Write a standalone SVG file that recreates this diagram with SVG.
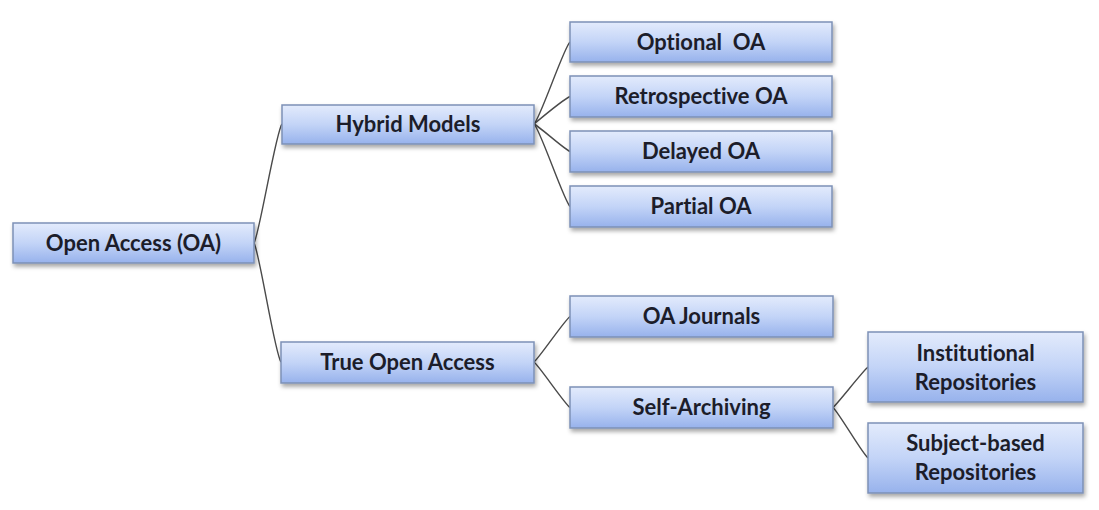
<svg xmlns="http://www.w3.org/2000/svg" width="1099" height="510" viewBox="0 0 1099 510">
  <defs>
    <linearGradient id="boxFill" x1="0" y1="0" x2="0" y2="1">
      <stop offset="0" stop-color="#e3ebfc"/>
      <stop offset="0.5" stop-color="#c3d4f7"/>
      <stop offset="1" stop-color="#97b2ec"/>
    </linearGradient>
    <filter id="shadow" x="-10%" y="-20%" width="120%" height="160%">
      <feDropShadow dx="1.5" dy="3" stdDeviation="2" flood-color="#000" flood-opacity="0.35"/>
    </filter>
  </defs>
  <style>
    .box { fill: url(#boxFill); stroke: #7d91b6; stroke-width: 1.5; filter: url(#shadow); }
    .label { font-family: Lato, "Open Sans", "DejaVu Sans", sans-serif; font-weight: bold; font-size: 22px; fill: #1c1d2a; text-anchor: middle; font-variant-ligatures: none; }
    .link { fill: none; stroke: #4a4a4a; stroke-width: 1.4; }
  </style>
  <rect width="1099" height="510" fill="#ffffff"/>

  <!-- connectors: gently curved lines from parent right edge to child left edge -->
  <g id="connectors">
    <path class="link" d="M254,243 C259,236 276,131 282,124"/>
    <path class="link" d="M254,243 C259,250 275,355 281,362"/>
    <path class="link" d="M534,124 C540,119 564,47 570,42"/>
    <path class="link" d="M534,124 C540,119 564,99 570,96.5"/>
    <path class="link" d="M534,124 C540,127 564,149 570,151.5"/>
    <path class="link" d="M534,124 C540,129 564,201 570,206.5"/>
    <path class="link" d="M534,362 C540,357 564,321 570,316.5"/>
    <path class="link" d="M534,362 C540,367 564,403 570,407.5"/>
    <path class="link" d="M833,407.5 C839,402 862,372 868,367"/>
    <path class="link" d="M833,407.5 C839,413 862,453 868,458"/>
  </g>

  <g id="open-access">
    <rect class="box" x="13" y="223" width="241" height="40"/>
    <text class="label" x="133.5" y="250.5">Open Access (OA)</text>
  </g>
  <g id="hybrid-models">
    <rect class="box" x="282" y="105" width="252" height="39"/>
    <text class="label" x="408" y="132">Hybrid Models</text>
  </g>
  <g id="optional-oa">
    <rect class="box" x="570" y="22" width="262" height="40"/>
    <text class="label" x="701" y="49.5" xml:space="preserve">Optional  OA</text>
  </g>
  <g id="retrospective-oa">
    <rect class="box" x="570" y="76" width="262" height="41"/>
    <text class="label" x="701" y="104">Retrospective OA</text>
  </g>
  <g id="delayed-oa">
    <rect class="box" x="570" y="131" width="262" height="41"/>
    <text class="label" x="701" y="159">Delayed OA</text>
  </g>
  <g id="partial-oa">
    <rect class="box" x="570" y="186" width="262" height="41"/>
    <text class="label" x="701" y="214">Partial OA</text>
  </g>
  <g id="true-open-access">
    <rect class="box" x="281" y="342" width="253" height="41"/>
    <text class="label" x="407.5" y="370">True Open Access</text>
  </g>
  <g id="oa-journals">
    <rect class="box" x="570" y="296" width="263" height="41"/>
    <text class="label" x="701.5" y="324">OA Journals</text>
  </g>
  <g id="self-archiving">
    <rect class="box" x="570" y="387" width="263" height="41"/>
    <text class="label" x="701.5" y="415">Self-Archiving</text>
  </g>
  <g id="institutional-repositories">
    <rect class="box" x="868" y="332" width="215" height="70"/>
    <text class="label" x="975.5" y="361">Institutional</text>
    <text class="label" x="975.5" y="390">Repositories</text>
  </g>
  <g id="subject-based-repositories">
    <rect class="box" x="868" y="423" width="215" height="70"/>
    <text class="label" x="975.5" y="451">Subject-based</text>
    <text class="label" x="975.5" y="480">Repositories</text>
  </g>
</svg>
